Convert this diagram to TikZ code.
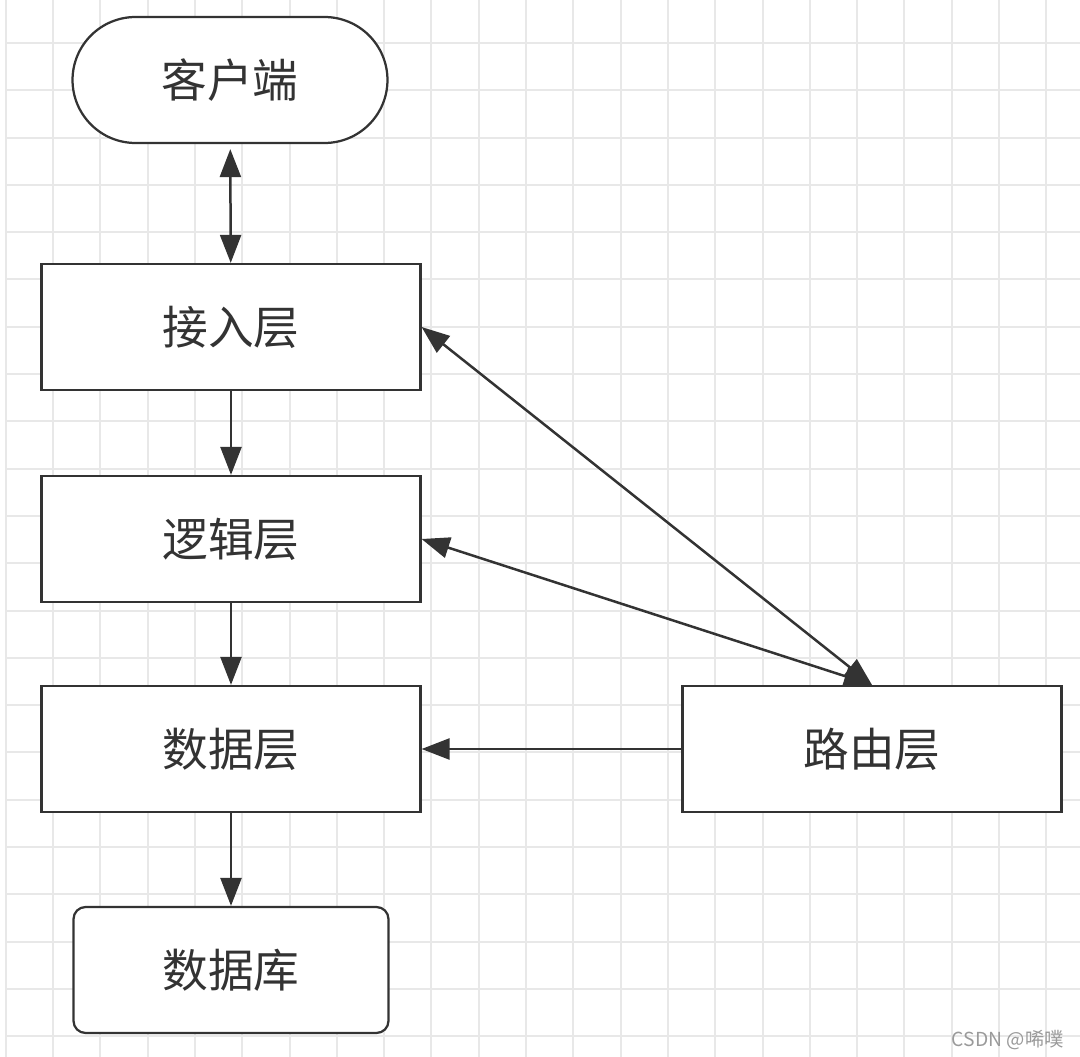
\documentclass[tikz,border=0pt]{standalone}
\usepackage{fontspec}
\newfontfamily\cjk{Noto Sans CJK SC}
\usetikzlibrary{arrows.meta}
\definecolor{ink}{HTML}{333333}
\definecolor{gridline}{HTML}{E8E8E8}
\definecolor{marktext}{HTML}{9A9A9A}
\tikzset{
  layer/.style={draw=ink, line width=0.045cm, fill=white, text=ink,
    minimum width=7.58cm, minimum height=2.52cm, inner sep=0pt,
    font=\cjk\fontsize{26pt}{30pt}\selectfont},
  terminal/.style={layer, minimum width=6.3cm, rounded corners=1.26cm},
  store/.style={layer, minimum width=6.3cm, rounded corners=0.24cm},
  flow/.style={draw=ink, line width=0.05cm, -{Triangle[length=0.56cm,width=0.42cm]}},
  twoway/.style={flow, {Triangle[length=0.56cm,width=0.42cm]}-{Triangle[length=0.56cm,width=0.42cm]}}
}
\begin{document}
\begin{tikzpicture}[x=0.02cm, y=-0.02cm]
  \useasboundingbox (0,0) rectangle (1080,1057);
  % background grid
  \foreach \k in {0,...,22}
    \draw[gridline, line width=0.04cm] ({5.7+47.3*\k},0) -- ({5.7+47.3*\k},1057);
  \foreach \k in {1,...,22}
    \draw[gridline, line width=0.04cm] (6,{-4.3+47.3*\k}) -- (1080,{-4.3+47.3*\k});
  \draw
    (230,80) node[terminal] (client){客户端}
    (231,327) node[layer] (access){接入层}
    (231,539) node[layer] (logic){逻辑层}
    (231,749) node[layer] (data){数据层}
    (231,970) node[store] (db){数据库}
    (872,749) node[layer] (route){路由层};
  \begin{scope}[flow]
    \draw[twoway, shorten <=0.1cm] (client) to (access);
    \draw (access) to (logic);
    \draw (logic) to (data);
    \draw (data) to (db);
    \draw[twoway] (route.north) to (access.east);
    \draw[twoway] (route.north) to (logic.east);
    \draw (route.west) to (data.east);
  \end{scope}
  \node[anchor=east, text=marktext, font=\cjk\fontsize{11pt}{13pt}\selectfont] (mark) at (1070,1040) {CSDN @唏噗};
\end{tikzpicture}
\end{document}
